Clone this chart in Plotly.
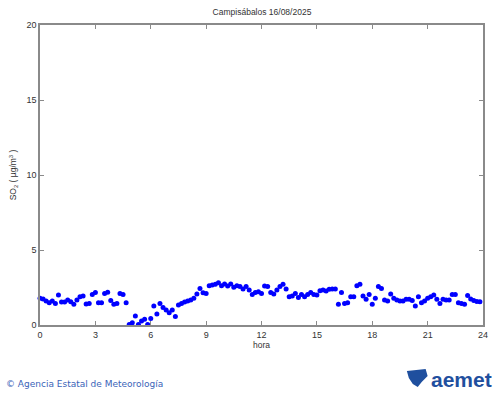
import plotly.graph_objects as go

# SO2 values every 10 minutes (µg/m3), 16/08/2025
hour_values = [
    [1.78, 1.73, 1.60, 1.49, 1.60, 1.44],   # 0h
    [2.00, 1.53, 1.53, 1.67, 1.55, 1.38],   # 1h
    [1.67, 1.89, 1.93, 1.40, 1.44, 2.04],   # 2h
    [2.16, 1.49, 1.49, 2.10, 2.18, 1.64],   # 3h
    [1.38, 1.44, 2.10, 2.04, 1.49, 0.04],   # 4h
    [0.15, 0.60, 0.04, 0.27, 0.38, 0.04],   # 5h
    [0.44, 1.27, 0.73, 1.44, 1.16, 1.00],   # 6h
    [0.82, 1.00, 0.56, 1.33, 1.44, 1.53],   # 7h
    [1.60, 1.67, 1.78, 2.07, 2.44, 2.15],   # 8h
    [2.10, 2.62, 2.67, 2.71, 2.82, 2.62],   # 9h
    [2.73, 2.60, 2.73, 2.51, 2.62, 2.56],   # 10h
    [2.40, 2.56, 2.33, 2.04, 2.16, 2.22],   # 11h
    [2.10, 2.60, 2.56, 2.16, 2.07, 2.33],   # 12h
    [2.56, 2.71, 2.40, 1.89, 1.93, 2.10],   # 13h
    [1.84, 2.04, 1.89, 2.04, 2.16, 2.04],   # 14h
    [2.00, 2.29, 2.33, 2.27, 2.38, 2.40],   # 15h
    [2.40, 1.38, 2.16, 1.44, 1.49, 1.89],   # 16h
    [1.89, 2.62, 2.71, 1.93, 1.71, 2.04],   # 17h
    [1.38, 1.78, 2.56, 2.44, 1.67, 1.60],   # 18h
    [2.07, 1.78, 1.67, 1.60, 1.60, 1.71],   # 19h
    [1.71, 1.64, 1.27, 1.89, 1.49, 1.60],   # 20h
    [1.78, 1.89, 2.00, 1.71, 1.44, 1.71],   # 21h
    [1.67, 1.67, 2.04, 2.04, 1.49, 1.44],   # 22h
    [1.38, 1.96, 1.73, 1.64, 1.56, 1.55],   # 23h
]
so2 = [v for row in hour_values for v in row]
hours = [i / 6 for i in range(len(so2))]

x_ticks = [0, 3, 6, 9, 12, 15, 18, 21, 24]
y_ticks = [0, 5, 10, 15, 20]
title_text = "Campisábalos 16/08/2025"

FONT = "Liberation Sans, Arial, sans-serif"
AX = "#8a8a8a"

fig = go.Figure()
fig.add_trace(go.Scatter(
    x=hours, y=so2, mode="markers",
    marker=dict(color="#0000ff", size=5, line=dict(width=0)),
    cliponaxis=False, showlegend=False,
))

axis_common = dict(
    showgrid=False, zeroline=False, showline=True, linecolor=AX, linewidth=1.5,
    mirror="ticks", ticks="inside", ticklen=4, tickcolor=AX, tickwidth=1,
    tickfont=dict(family=FONT, size=9, color="#333333"),
)

fig.update_layout(
    width=500, height=395,
    margin=dict(l=38, r=14, t=25, b=70),
    paper_bgcolor="white", plot_bgcolor="white",
    title=dict(text=title_text, x=262 / 500, xanchor="center", y=1 - 12 / 395,
               yanchor="middle", font=dict(family=FONT, size=8.5, color="#333333")),
    xaxis=dict(range=[0, 24], tickvals=x_ticks, ticktext=[str(t) for t in x_ticks],
               title=dict(text="hora", font=dict(family=FONT, size=8.5, color="#333333"),
                          standoff=2),
               **axis_common),
    yaxis=dict(range=[0, 20], tickvals=y_ticks, ticktext=[str(t) for t in y_ticks],
               title=dict(text="SO<sub>2</sub> ( µg/m<sup>3</sup> )",
                          font=dict(family=FONT, size=8.5, color="#333333"), standoff=8),
               **axis_common),
)

def px(xp):
    return (xp - 38) / 448

def py(yp):
    return (325 - yp) / 300

# footer: copyright text
fig.add_annotation(
    xref="paper", yref="paper", x=px(2), y=py(384),
    xanchor="left", yanchor="middle", showarrow=False,
    text="© Agencia Estatal de Meteorología",
    font=dict(family="DejaVu Sans, sans-serif", size=9, color="#3a63b8"),
)
# footer: aemet logo text
fig.add_annotation(
    xref="paper", yref="paper", x=px(497), y=py(379),
    xanchor="right", yanchor="middle", showarrow=False,
    text="<b>aemet</b>",
    font=dict(family="Liberation Sans, Arial, sans-serif", size=21, color="#1f4f9e"),
)
# footer: logo icon (rough)
fig.add_shape(type="path", xref="paper", yref="paper",
              path=f"M {px(409)} {py(371)} L {px(428)} {py(369)} L {px(430)} {py(376)} "
                   f"L {px(424)} {py(382)} L {px(420)} {py(387)} L {px(415)} {py(384)} "
                   f"L {px(411)} {py(378)} Z",
              fillcolor="#1f4f9e", line=dict(width=0))

fig.write_html(
    "out.html",
    config={"displayModeBar": False},
    post_script="document.body.style.margin='0';document.body.style.padding='0';"
                "document.body.style.overflow='hidden';",
)
